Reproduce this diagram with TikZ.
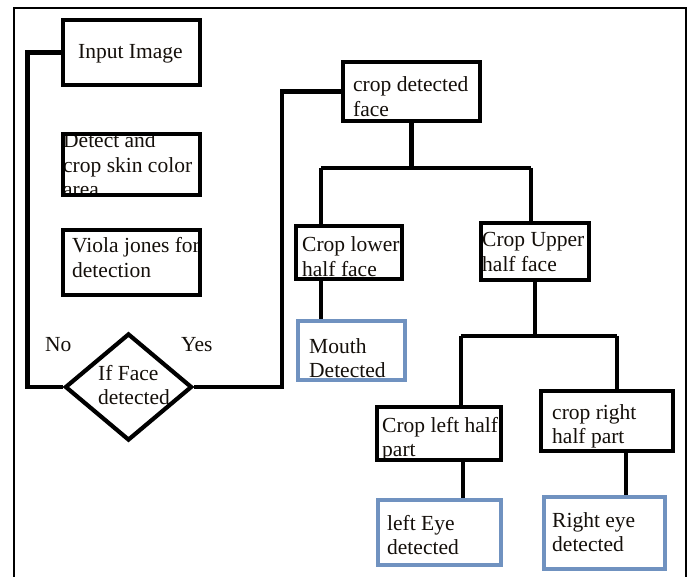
\documentclass[tikz,border=0pt]{standalone}
\usepackage{fontspec}
\setmainfont{Liberation Serif}
\usetikzlibrary{shapes.geometric}
\definecolor{boxblue}{RGB}{112,146,192}
\definecolor{inkc}{RGB}{20,15,10}
\begin{document}
\begin{tikzpicture}[x=1pt,y=-1pt,
  bbox/.style={draw=black,line width=4.6pt,rectangle,inner sep=0pt},
  blbox/.style={draw=boxblue,line width=3.8pt,rectangle,inner sep=0pt},
  conn/.style={draw=black,line width=4.5pt},
  txt/.style={anchor=base west,inner sep=0pt,align=left,text=inkc,font=\fontsize{21.5}{24.5}\selectfont}]
\useasboundingbox (0,0) rectangle (691,577);
\fill[white] (0,0) rectangle (691,577);
% outer frame
\draw[line width=2pt] (14,577) -- (14,8) -- (686,8) -- (686,577);
% texts (anchor = baseline of the last line)
\node[txt] (tIn) at (78,59) {Input Image};
\node[txt] (tDet) at (63,197) {Detect and\\crop skin color\\area};
\node[txt] (tVi) at (72,277.5) {Viola jones for\\detection};
\node[txt] (tIf) at (98,404.5) {If Face\\detected};
\node[txt] (tNo) at (45,352) {No};
\node[txt] (tYes) at (181,352) {Yes};
\node[txt] (tCr) at (353,116.5) {crop detected\\face};
\node[txt] (tLo) at (302,276.5) {Crop lower\\half face};
\node[txt] (tMo) at (309,377.5) {Mouth\\Detected};
\node[txt] (tUp) at (482,271.5) {Crop Upper\\half face};
\node[txt] (tCl) at (382,456.5) {Crop left half\\part};
\node[txt] (tCrr) at (552,443.5) {crop right\\half part};
\node[txt] (tLe) at (387,554.5) {left Eye\\detected};
\node[txt] (tRe) at (552,551.5) {Right eye\\detected};
% boxes
\node[bbox,minimum width=137pt,minimum height=65pt] (in) at (131.5,52.5) {};
\node[bbox,minimum width=137pt,minimum height=61pt] (det) at (131.5,164.5) {};
\node[bbox,minimum width=137pt,minimum height=65pt] (vi) at (131.5,262.5) {};
\node[diamond,draw=black,line width=4.2pt,inner sep=0pt,minimum width=127pt,minimum height=107pt] (dia) at (128.5,387) {};
\node[bbox,minimum width=137pt,minimum height=59pt] (crop) at (411.5,91.5) {};
\node[bbox,minimum width=106pt,minimum height=53pt] (low) at (349,252.5) {};
\node[blbox,minimum width=107pt,minimum height=59pt] (mouth) at (351.5,350.5) {};
\node[bbox,minimum width=108pt,minimum height=57pt] (up) at (535,251.5) {};
\node[bbox,minimum width=124pt,minimum height=53pt] (cl) at (439,433.5) {};
\node[bbox,minimum width=132pt,minimum height=60pt] (cr) at (607,421) {};
\node[blbox,minimum width=123pt,minimum height=65pt] (le) at (439.5,532.5) {};
\node[blbox,minimum width=121pt,minimum height=72pt] (re) at (604.5,533) {};
% junction coordinates
\coordinate (bL) at (321,168);
\coordinate (bR) at (531,168);
\coordinate (b2L) at (461,336);
\coordinate (b2R) at (617,336);
\coordinate (lx2) at (463,0);
\coordinate (rx2) at (626,0);
% connectors
\draw[conn] (in.west) -- ++(-33,0) |- (dia.west);
\draw[conn] (dia.east) -- ++(88,0) |- (crop.west);
\draw[conn] (crop.south) -- (crop.south |- bL);
\draw[conn] (bL) -- (bR);
\draw[conn] (bL) -- (bL |- low.north);
\draw[conn] (bR) -- (bR |- up.north);
\draw[conn] (low.south -| bL) -- (mouth.north -| bL);
\draw[conn] (up.south) -- (up.south |- b2L);
\draw[conn] (b2L) -- (b2R);
\draw[conn] (b2L) -- (b2L |- cl.north);
\draw[conn] (b2R) -- (b2R |- cr.north);
\draw[conn] (cl.south -| lx2) -- (le.north -| lx2);
\draw[conn] (cr.south -| rx2) -- (re.north -| rx2);
\end{tikzpicture}
\end{document}
